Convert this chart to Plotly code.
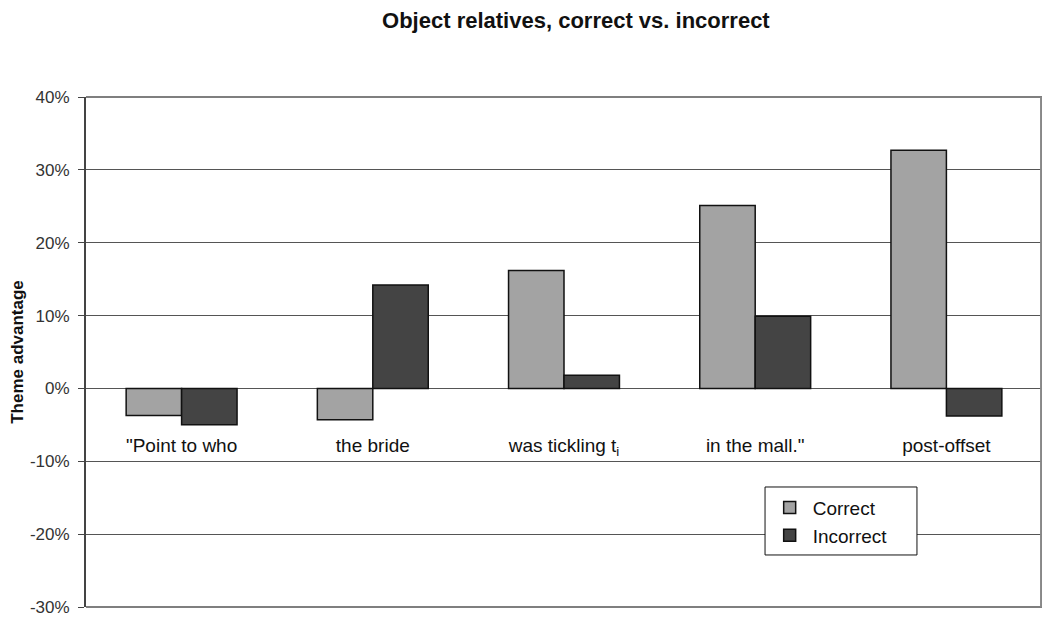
import plotly.graph_objects as go

categories = ['"Point to who', "the bride", "was tickling t<sub>i</sub>", 'in the mall."', "post-offset"]
correct = [-0.037, -0.043, 0.162, 0.251, 0.327]
incorrect = [-0.050, 0.142, 0.018, 0.099, -0.038]
y_ticks = [-0.3, -0.2, -0.1, 0.0, 0.1, 0.2, 0.3, 0.4]
y_labels = ["-30%", "-20%", "-10%", "0%", "10%", "20%", "30%", "40%"]

font_family = "Arial, Liberation Sans, sans-serif"

fig = go.Figure()
fig.add_trace(go.Bar(x=categories, y=correct, name="Correct",
                     marker=dict(color="#a3a3a3", line=dict(color="#111111", width=1.5))))
fig.add_trace(go.Bar(x=categories, y=incorrect, name="Incorrect",
                     marker=dict(color="#444444", line=dict(color="#111111", width=1.5))))

# the page body adds an 8px offset, so the figure is 8px smaller than the window
fig.update_layout(
    width=1042, height=610,
    margin=dict(l=78, r=8, t=89, b=11, autoexpand=False),
    paper_bgcolor="white", plot_bgcolor="white",
    barmode="group", bargap=0.42, bargroupgap=0,
    font=dict(family=font_family, size=16, color="#111111"),
    title=dict(text="<b>Object relatives, correct vs. incorrect</b>",
               xref="container", x=0.545, xanchor="center", y=0.980, yanchor="middle",
               font=dict(size=22, color="#111111")),
    xaxis=dict(anchor="free", position=0.343, showline=False, showgrid=False,
               ticks="", zeroline=False, automargin=False,
               tickfont=dict(size=19, color="#111111")),
    yaxis=dict(range=[-0.3, 0.4], tickvals=y_ticks, ticktext=y_labels,
               showgrid=True, gridcolor="#555555", gridwidth=1,
               showline=True, linecolor="#444444", linewidth=2,
               ticks="outside", ticklen=6, tickcolor="#444444",
               ticklabelstandoff=5,
               zeroline=True, zerolinecolor="#555555", zerolinewidth=1,
               automargin=False,
               tickfont=dict(size=17, color="#333333"),
               title=dict(text="<b>Theme advantage</b>", standoff=9,
                          font=dict(size=17, color="#111111"))),
    legend=dict(x=0.712, y=0.232, xanchor="left", yanchor="top",
                bgcolor="rgba(0,0,0,0)", borderwidth=0,
                font=dict(size=19, color="#111111"),
                itemwidth=36),
    showlegend=True,
)

# plot-area frame: grid-coloured top and bottom edges, lighter right edge
fig.add_shape(type="line", xref="paper", yref="paper", x0=0, x1=1, y0=1, y1=1,
              line=dict(color="#555555", width=1.5), layer="below")
fig.add_shape(type="line", xref="paper", yref="paper", x0=0, x1=1, y0=0, y1=0,
              line=dict(color="#555555", width=1.5), layer="below")
fig.add_shape(type="line", xref="paper", yref="paper", x0=0.999, x1=0.999, y0=0, y1=1,
              line=dict(color="#888888", width=2))
# legend frame (wider than plotly's own legend box)
fig.add_shape(type="rect", xref="paper", yref="paper", x0=0.7103, x1=0.8692, y0=0.102, y1=0.2353,
              line=dict(color="#111111", width=1), fillcolor="white", layer="above")

fig.write_html("out.html")
